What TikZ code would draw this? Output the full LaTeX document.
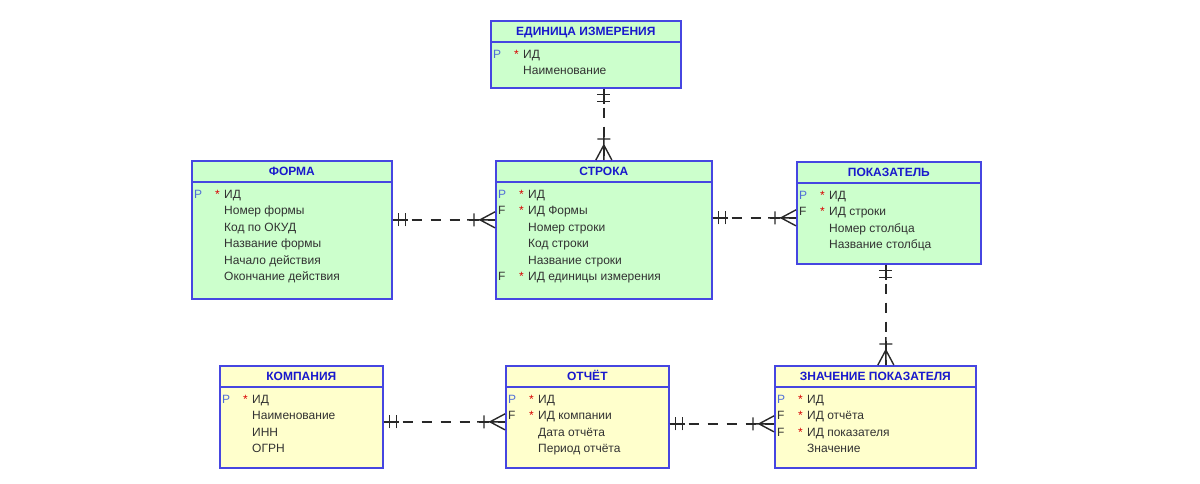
\documentclass[tikz,border=0pt]{standalone}
\usepackage{fontspec}
\setmainfont{Liberation Sans}
\usetikzlibrary{decorations.markings,positioning,calc}
\definecolor{entgreen}{RGB}{204,255,204}
\definecolor{entyellow}{RGB}{255,255,204}
\definecolor{entblue}{RGB}{70,70,225}
\definecolor{titleblue}{RGB}{25,25,205}
\definecolor{keyblue}{RGB}{80,110,215}
\definecolor{attrgray}{RGB}{50,50,50}
\definecolor{relgray}{RGB}{40,40,40}
\tikzset{relation/.style = {
    draw=relgray, line width=1.4pt,
    dash pattern=on 10pt off 9pt,
    postaction={decorate},
    decoration={markings,
      % parent end: exactly one
      mark=at position 1pt with {\draw[solid] (-1pt,0) -- (14pt,0) (5pt,-6.5pt) -- (5pt,6.5pt) (12pt,-6.5pt) -- (12pt,6.5pt);},
      % child end: one or many
      mark=at position -1pt with {\draw[solid] (1pt,0) -- (-27pt,0) (-20pt,-6.5pt) -- (-20pt,6.5pt) (-14pt,0) -- (1pt,8pt) (-14pt,0) -- (1pt,-8pt);}
    }
  }
}

\begin{document}
\begin{tikzpicture}[x=1pt, y=-1pt]
  \useasboundingbox (0,0) rectangle (1200,483);
  % styles
  \tikzstyle{entity} = [rectangle, draw=entblue, line width=1.7pt, anchor=north west, inner sep=0pt]
  \tikzstyle{headline} = [draw=entblue, line width=1.7pt]
  \tikzstyle{title} = [anchor=base, inner sep=0pt, font=\fontsize{12}{14}\selectfont\bfseries, text=titleblue]
  \tikzstyle{attr} = [anchor=base west, inner sep=0pt, font=\fontsize{12}{14}\selectfont, text=attrgray]
  \tikzstyle{pkey} = [attr, text=keyblue]
  \tikzstyle{fkey} = [attr, text=attrgray]
  \tikzstyle{mand} = [attr, text=red!85!black]

  % ЕДИНИЦА ИЗМЕРЕНИЯ
  \node[entity, fill=entgreen, minimum width=190pt, minimum height=67pt] (unit) at (490,20) {};
  \draw[headline] ([yshift=-22pt]unit.north west) -- ([yshift=-22pt]unit.north east);
  \node[title] at ([yshift=-15.5pt]unit.north) {ЕДИНИЦА ИЗМЕРЕНИЯ};
  \foreach \t [count=\i] in {ИД, Наименование}
    \node[attr] (unit-\i) at ([xshift=33pt, yshift={-38.5pt-(\i-1)*16.4pt}]unit.north west) {\t};
  \node[pkey] at ([xshift=-30pt]unit-1.base west) {P};
  \node[mand] at ([xshift=-9pt]unit-1.base west) {*};

  % ФОРМА
  \node[entity, fill=entgreen, minimum width=200pt, minimum height=138pt] (form) at (191,160) {};
  \draw[headline] ([yshift=-22pt]form.north west) -- ([yshift=-22pt]form.north east);
  \node[title] at ([yshift=-15.5pt]form.north) {ФОРМА};
  \foreach \t [count=\i] in {ИД, Номер формы, Код по ОКУД, Название формы, Начало действия, Окончание действия}
    \node[attr] (form-\i) at ([xshift=33pt, yshift={-38.5pt-(\i-1)*16.4pt}]form.north west) {\t};
  \node[pkey] at ([xshift=-30pt]form-1.base west) {P};
  \node[mand] at ([xshift=-9pt]form-1.base west) {*};

  % СТРОКА
  \node[entity, fill=entgreen, minimum width=216pt, minimum height=138pt] (row) at (495,160) {};
  \draw[headline] ([yshift=-22pt]row.north west) -- ([yshift=-22pt]row.north east);
  \node[title] at ([yshift=-15.5pt]row.north) {СТРОКА};
  \foreach \t [count=\i] in {ИД, ИД Формы, Номер строки, Код строки, Название строки, ИД единицы измерения}
    \node[attr] (row-\i) at ([xshift=33pt, yshift={-38.5pt-(\i-1)*16.4pt}]row.north west) {\t};
  \node[pkey] at ([xshift=-30pt]row-1.base west) {P};
  \node[mand] at ([xshift=-9pt]row-1.base west) {*};
  \foreach \i in {2,6} {
    \node[fkey] at ([xshift=-30pt]row-\i.base west) {F};
    \node[mand] at ([xshift=-9pt]row-\i.base west) {*};
  }

  % ПОКАЗАТЕЛЬ
  \node[entity, fill=entgreen, minimum width=184pt, minimum height=102pt] (index) at (796,161) {};
  \draw[headline] ([yshift=-22pt]index.north west) -- ([yshift=-22pt]index.north east);
  \node[title] at ([yshift=-15.5pt]index.north) {ПОКАЗАТЕЛЬ};
  \foreach \t [count=\i] in {ИД, ИД строки, Номер столбца, Название столбца}
    \node[attr] (index-\i) at ([xshift=33pt, yshift={-38.5pt-(\i-1)*16.4pt}]index.north west) {\t};
  \node[pkey] at ([xshift=-30pt]index-1.base west) {P};
  \node[mand] at ([xshift=-9pt]index-1.base west) {*};
  \node[fkey] at ([xshift=-30pt]index-2.base west) {F};
  \node[mand] at ([xshift=-9pt]index-2.base west) {*};

  % КОМПАНИЯ
  \node[entity, fill=entyellow, minimum width=163pt, minimum height=102pt] (company) at (219,365) {};
  \draw[headline] ([yshift=-22pt]company.north west) -- ([yshift=-22pt]company.north east);
  \node[title] at ([yshift=-15.5pt]company.north) {КОМПАНИЯ};
  \foreach \t [count=\i] in {ИД, Наименование, ИНН, ОГРН}
    \node[attr] (company-\i) at ([xshift=33pt, yshift={-38.5pt-(\i-1)*16.4pt}]company.north west) {\t};
  \node[pkey] at ([xshift=-30pt]company-1.base west) {P};
  \node[mand] at ([xshift=-9pt]company-1.base west) {*};

  % ОТЧЁТ
  \node[entity, fill=entyellow, minimum width=163pt, minimum height=102pt] (report) at (505,365) {};
  \draw[headline] ([yshift=-22pt]report.north west) -- ([yshift=-22pt]report.north east);
  \node[title] at ([yshift=-15.5pt]report.north) {ОТЧЁТ};
  \foreach \t [count=\i] in {ИД, ИД компании, Дата отчёта, Период отчёта}
    \node[attr] (report-\i) at ([xshift=33pt, yshift={-38.5pt-(\i-1)*16.4pt}]report.north west) {\t};
  \node[pkey] at ([xshift=-30pt]report-1.base west) {P};
  \node[mand] at ([xshift=-9pt]report-1.base west) {*};
  \node[fkey] at ([xshift=-30pt]report-2.base west) {F};
  \node[mand] at ([xshift=-9pt]report-2.base west) {*};

  % ЗНАЧЕНИЕ ПОКАЗАТЕЛЯ
  \node[entity, fill=entyellow, minimum width=201pt, minimum height=102pt] (value) at (774,365) {};
  \draw[headline] ([yshift=-22pt]value.north west) -- ([yshift=-22pt]value.north east);
  \node[title] at ([yshift=-15.5pt]value.north) {ЗНАЧЕНИЕ ПОКАЗАТЕЛЯ};
  \foreach \t [count=\i] in {ИД, ИД отчёта, ИД показателя, Значение}
    \node[attr] (value-\i) at ([xshift=33pt, yshift={-38.5pt-(\i-1)*16.4pt}]value.north west) {\t};
  \node[pkey] at ([xshift=-30pt]value-1.base west) {P};
  \node[mand] at ([xshift=-9pt]value-1.base west) {*};
  \foreach \i in {2,3} {
    \node[fkey] at ([xshift=-30pt]value-\i.base west) {F};
    \node[mand] at ([xshift=-9pt]value-\i.base west) {*};
  }

  % relations (parent -> child)
  \draw[relation] (unit.south -| row.north) -- (row.north);
  \draw[relation] ([yshift=10pt]form.east) -- ([yshift=10pt]row.west);
  \draw[relation] ([yshift=12pt]row.east) -- ([yshift=12pt]row.east -| index.west);
  \draw[relation] ([xshift=-3pt]index.south) -- ([xshift=-3pt]index.south |- value.north);
  \draw[relation] ([yshift=-5pt]company.east) -- ([yshift=-5pt]report.west);
  \draw[relation] ([yshift=-7pt]report.east) -- ([yshift=-7pt]report.east -| value.west);
\end{tikzpicture}
\end{document}
